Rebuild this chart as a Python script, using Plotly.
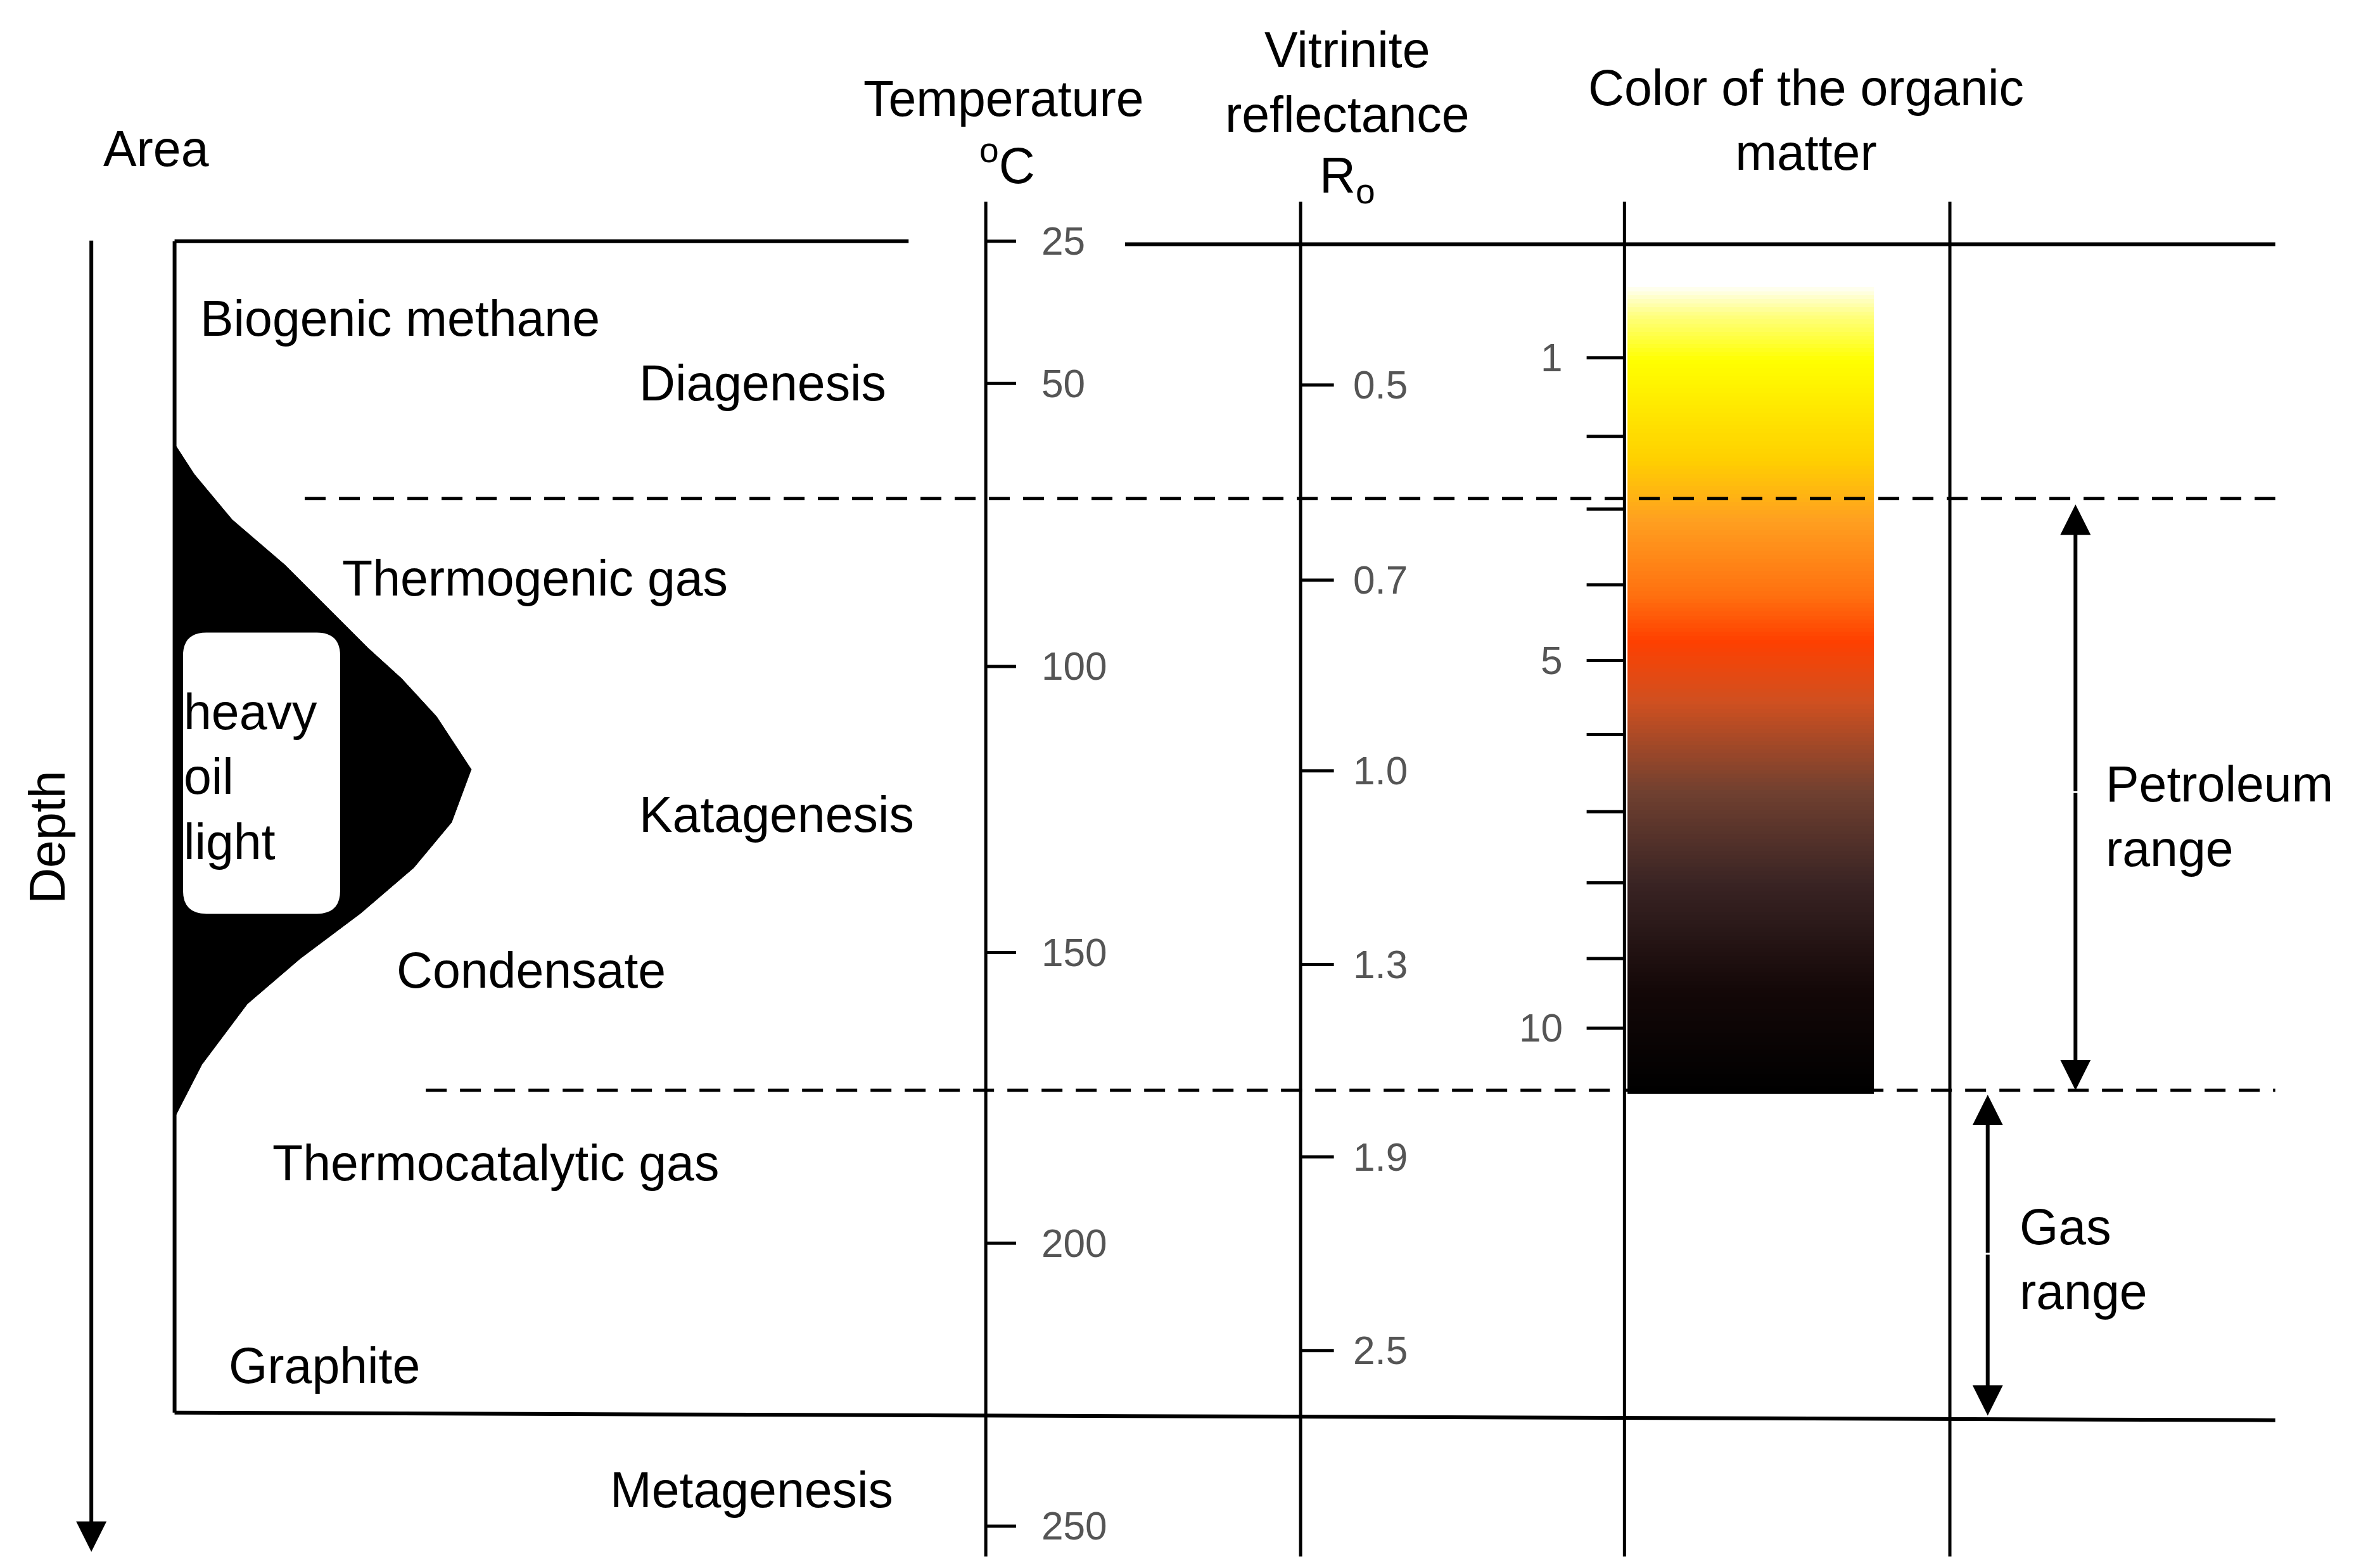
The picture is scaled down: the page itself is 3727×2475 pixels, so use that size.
import numpy as np
import plotly.graph_objects as go

S = 3727 / 1560  # pixel scale of reference drawing units

# temperature scale (label, depth position)
temp_labels = ["25", "50", "100", "150", "200", "250"]
temp_pos = [156, 250, 437, 626, 818, 1005]
# vitrinite reflectance
ro_labels = ["0.5", "0.7", "1.0", "1.3", "1.9", "2.5"]
ro_pos = [251, 380, 506, 634, 761, 889]
# colour index ticks
col_tick_pos = [233, 285, 333, 383, 433, 482, 533, 580, 630, 676]
col_tick_labels = ["1", "", "", "", "5", "", "", "", "", "10"]
# colour of organic matter, by depth
color_depth = [185, 205, 235, 300, 340, 390, 420, 460, 520, 580, 650, 718]
color_stops = ["#ffffff", "#ffff80", "#ffff00", "#ffd000", "#ffa020", "#ff7010",
               "#ff4000", "#d05020", "#704030", "#3a2424", "#140808", "#000000"]
# hydrocarbon generation envelope (depth, extent)
env_depth = [290, 310, 340, 370, 400, 425, 445, 470, 505, 540, 570, 600, 630, 660, 700, 735]
env_extent = [112, 125, 150, 185, 215, 240, 262, 285, 308, 295, 270, 235, 195, 160, 130, 112]
# zone boundaries
oil_top, oil_bottom, base = 326, 717, 932

fig = go.Figure()
DASH = "%dpx,%dpx" % (14 * S, 9 * S)

def seg(x, y, dash=None, w=6):
    fig.add_trace(go.Scatter(x=x, y=y, mode="lines", hoverinfo="skip",
                             line=dict(color="black", width=w, dash=dash)))

# envelope
fig.add_trace(go.Scatter(x=[112] + env_extent + [112], y=[290] + env_depth + [735],
                         fill="toself", fillcolor="black", mode="lines",
                         line=dict(color="black", width=1)))
fig.add_shape(type="path", path="M 133 415 L 206 415 Q 221 415 221 430 L 221 585 Q 221 600 206 600 "
              "L 133 600 Q 118 600 118 585 L 118 430 Q 118 415 133 415 Z",
              fillcolor="white", line=dict(color="white"), layer="above")

# colour bar
ys = np.linspace(color_depth[0], color_depth[-1], 200)
lo, hi = color_depth[0], color_depth[-1]
cscale = [[(d - lo) / (hi - lo), c] for d, c in zip(color_depth, color_stops)]
fig.add_trace(go.Heatmap(z=[[v] for v in ys], y=ys, x0=1153.5, dx=163,
                         colorscale=cscale, showscale=False, hoverinfo="skip"))

# frame
seg([112, 597], [156, 156])
seg([740, 1500], [158, 158])
seg([112, 112], [156, 930])
seg([112, 1500], [930, 935])
seg([198, 1500], [oil_top, oil_top], dash=DASH, w=5)
seg([278, 1500], [oil_bottom, oil_bottom], dash=DASH, w=5)
for x in [648, 856, 1070, 1285]:
    seg([x, x], [130, 1025], w=5)

tf = dict(size=26 * S, color="#555")
for p, t in zip(temp_pos, temp_labels):
    seg([648, 668], [p, p], w=5)
    fig.add_annotation(x=684, y=p, text=t, showarrow=False, xanchor="left", font=tf)
for p, t in zip(ro_pos, ro_labels):
    seg([856, 878], [p, p], w=5)
    fig.add_annotation(x=890, y=p, text=t, showarrow=False, xanchor="left", font=tf)
for p, t in zip(col_tick_pos, col_tick_labels):
    seg([1045, 1070], [p, p], w=5)
    if t:
        fig.add_annotation(x=1030, y=p, text=t, showarrow=False, xanchor="right", font=tf)

# arrows
def arrow(x, y0, y1):
    fig.add_annotation(x=x, y=y1, ax=x, ay=y0, axref="x", ayref="y", text="",
                       showarrow=True, arrowhead=2, arrowsize=1.6, arrowwidth=6, arrowcolor="black")

arrow(57, 155, 1022)
arrow(1368, 520, 330); arrow(1368, 520, 717)
arrow(1310, 825, 720); arrow(1310, 825, 932)

f = dict(size=33 * S, color="black", family="Liberation Sans, Arial")
texts = [
    (100, 95, "Area", "center"), (128, 207, "Biogenic methane", "left"),
    (418, 250, "Diagenesis", "left"), (222, 379, "Thermogenic gas", "left"),
    (418, 535, "Katagenesis", "left"), (258, 638, "Condensate", "left"),
    (176, 765, "Thermocatalytic gas", "left"), (147, 899, "Graphite", "left"),
    (399, 981, "Metagenesis", "left"),
    (117, 510, "heavy<br>oil<br>light", "left"),
    (660, 62, "Temperature", "center"), (662, 104, "<sup>o</sup>C", "center"),
    (887, 51, "Vitrinite<br>reflectance", "center"), (887, 115, "R<sub>o</sub>", "center"),
    (1190, 76, "Color of the organic<br>matter", "center"),
    (1387, 536, "Petroleum<br>range", "left"), (1330, 829, "Gas<br>range", "left"),
]
for x, y, t, a in texts:
    fig.add_annotation(x=x, y=y, text=t, showarrow=False, xanchor=a, font=f,
                       align="left" if a == "left" else "center")
fig.add_annotation(x=28, y=550, text="Depth", textangle=-90, showarrow=False, font=f)

fig.update_layout(width=3727, height=2475, showlegend=False, plot_bgcolor="white",
                  paper_bgcolor="white", margin=dict(l=0, r=0, t=0, b=0),
                  font=dict(family="Liberation Sans, Arial"))
fig.update_xaxes(range=[0, 1560], visible=False)
fig.update_yaxes(range=[1036, 0], visible=False)
fig.write_html("out.html")
